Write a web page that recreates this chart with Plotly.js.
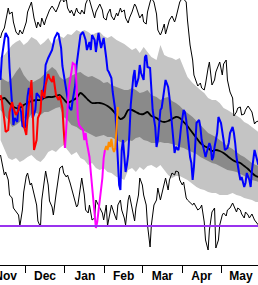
<!DOCTYPE html>
<html><head><meta charset="utf-8">
<script src="https://cdn.plot.ly/plotly-3.0.1.min.js"></script>
<style>html,body{margin:0;padding:0;background:#fff;overflow:hidden}#chart{width:258px;height:285px}</style>
</head><body><div id="chart"></div>
<script>
// x = days since 1 Nov 2015 (2016 is a leap year)
const monthNames = ['Nov','Dec','Jan','Feb','Mar','Apr','May'];
const monthStarts = [0,30,61,92,121,152,182,213];

// daily climatology envelopes
const climDays = [11,12,14,15,17,18,20,21,23,25,26,28,29,31,32,34,35,37,39,40,42,43,45,46,48,49,51,52,54,56,57,59,60,62,63,65,66,68,70,71,73,74,76,77,79,80,82,84,85,87,88,90,91,93,94,96,97,99,101,102,104,105,107,108,110,111,113,115,116,118,119,121,122,124,125,127,128,130,132,133,135,136,138,139,141,142,144,146,147,149,150,152,153,155,156,158,160,161,163,164,166,167,169,170,172,173,175,177,178,180,181,183,184,186,187,189,191,192,194,195,197,198,200,201,203,204,206,208,209,211];
const maxVals = [227,232,237,245,257,251,253,243,233,230,235,231,235,243,253,260,263,247,237,243,238,247,240,245,251,255,259,257,253,259,263,267,263,266,257,252,255,249,257,253,251,255,251,261,267,265,257,247,253,259,261,255,247,245,251,256,249,245,252,249,257,253,255,247,242,247,253,261,259,251,247,251,243,241,253,263,267,263,251,235,230,233,241,231,239,245,249,243,247,257,263,267,266,263,245,220,205,190,183,179,182,177,175,181,197,203,180,185,193,199,203,190,201,205,185,173,167,149,153,157,158,150,151,155,159,157,153,141,143,144];
const minVals = [110,103,90,93,85,70,67,57,53,50,39,55,73,89,92,80,82,70,60,44,38,65,87,94,80,64,58,50,70,90,97,99,92,88,90,82,77,67,58,60,80,87,70,55,52,60,45,47,65,60,58,52,45,60,39,55,60,52,45,60,65,55,47,40,65,70,55,44,57,70,87,80,70,60,40,18,40,60,65,77,65,70,83,87,75,85,92,90,94,93,85,80,83,67,65,62,60,62,57,55,57,60,43,25,15,35,53,57,17,25,40,50,52,49,55,57,62,59,53,57,55,51,47,53,50,47,51,45,43,40];

// percentile bands and median
const bandDays = [11,14,17,20,23,26,29,32,35,39,42,45,48,51,54,57,60,63,66,70,73,76,79,82,85,88,91,94,97,101,104,107,110,113,116,119,122,125,128,132,135,138,141,144,147,150,153,156,160,163,166,169,172,175,178,181,184,187,191,194,197,200,203,206,209,211];
const p90 = [208,210,215,220,223,225,220,223,228,225,220,223,227,221,225,229,227,231,230,235,233,235,233,230,232,233,229,227,229,225,223,221,218,215,217,212,218,213,208,205,220,210,208,207,205,207,197,188,182,178,175,172,167,165,165,162,157,155,152,149,147,143,141,138,135,133];
const p10 = [125,115,107,105,107,103,105,108,110,105,103,107,113,115,113,117,120,115,110,113,107,105,100,102,97,95,97,93,92,88,87,85,95,97,93,98,95,99,100,97,100,95,90,87,89,89,87,85,81,78,76,75,73,72,72,70,70,70,72,70,69,67,66,65,63,63];
const p75 = [188,185,183,187,193,198,190,185,182,185,187,191,195,198,195,188,185,187,189,192,193,190,188,189,187,185,182,183,180,178,177,175,175,177,175,172,173,175,170,168,165,167,168,164,162,159,155,152,148,144,140,135,132,130,128,125,122,119,116,113,110,108,105,102,100,99];
const p25 = [155,150,145,138,140,143,147,145,151,152,150,153,153,155,157,158,148,145,140,138,135,134,132,130,128,129,130,128,128,125,123,122,125,124,127,128,125,124,122,122,123,122,122,121,120,118,117,115,113,111,108,106,104,102,101,99,97,95,94,93,91,89,87,85,84,83];
const median = [165,167,163,159,157,157,160,162,164,165,165,167,168,168,169,170,166,162,164,167,172,169,165,162,162,162,161,159,156,150,146,148,155,155,153,151,151,153,149,147,144,143,144,146,148,147,143,139,132,127,122,119,117,114,115,114,112,109,105,103,102,99,96,92,89,88];

// another season (blue)
const blueDays = [11,12,14,15,17,18,20,21,22,24,25,27,28,30,32,33,35,36,38,39,42,43,45,46,48,49,51,53,55,56,58,59,61,63,64,66,67,69,70,72,73,75,77,78,80,81,82,84,85,86,87,89,90,91,93,94,95,97,98,100,101,102,103,104,105,106,107,108,109,110,111,112,114,115,116,118,119,120,122,123,124,125,127,128,129,131,132,133,135,136,138,139,141,142,144,145,146,147,149,150,151,153,154,155,156,158,159,160,161,162,163,165,166,167,169,170,171,173,174,175,176,177,179,180,182,183,184,185,187,188,189,191,192,193,194,196,197,198,200,201,202,204,205,206,207,208,210,211];
const blueVals = [185,207,225,232,227,197,160,140,147,143,160,153,139,137,169,177,167,147,155,172,167,165,180,200,207,210,215,227,232,231,217,199,185,167,158,155,165,180,200,220,230,233,225,215,223,215,230,225,213,223,232,217,223,227,207,195,193,187,173,155,130,105,80,75,115,125,110,93,100,110,132,160,188,195,178,187,200,192,185,208,210,198,197,168,155,138,118,125,155,157,175,185,178,168,140,122,112,118,115,125,138,155,153,145,132,108,102,85,98,125,142,145,138,125,115,108,113,122,118,105,108,118,132,148,142,135,125,115,117,122,132,138,132,122,108,92,85,88,78,82,92,85,78,95,108,115,105,100];

// current season, coloured by month
const curDays = [11,12,14,15,17,18,20,21,23,25,26,28,29,31,32,34,35,36,37,39,40,42,43,45,46,48,49,51,52,54,56,57,59,60,61,62,63,64,66,67,69,70,71,72,73,75,76,77,78,80,81,82,83,84,85,86,87,88,89,90,91,92,93,94,95,96,97,98,99,100,101,102];
const curVals = [170,165,145,133,135,153,163,157,150,155,162,159,140,130,147,175,185,155,115,125,147,153,175,167,180,191,187,183,189,170,165,169,157,135,117,140,155,177,193,202,200,180,147,140,138,135,125,132,122,108,93,77,60,50,37,43,55,65,73,87,107,115,119,115,123,118,126,117,113,117,135,158];
const curColors = ['#ff0000','#ff00ff','#ff8c00'];
const curBreaks = [61,92];

const threshold = 39;

function seg(lo, hi){
  const x=[], y=[];
  curDays.forEach((d,i)=>{ if(d>=lo && d<=hi){x.push(d); y.push(curVals[i]);} });
  return {x,y};
}

const traces = [];
traces.push({x:bandDays,y:p10,mode:'lines',line:{width:0,color:'rgba(0,0,0,0)'},hoverinfo:'skip'});
traces.push({x:bandDays,y:p90,mode:'lines',fill:'tonexty',fillcolor:'#c4c4c4',line:{width:0,color:'rgba(0,0,0,0)'},hoverinfo:'skip'});
traces.push({x:bandDays,y:p25,mode:'lines',line:{width:0,color:'rgba(0,0,0,0)'},hoverinfo:'skip'});
traces.push({x:bandDays,y:p75,mode:'lines',fill:'tonexty',fillcolor:'#8a8a8a',line:{width:0,color:'rgba(0,0,0,0)'},hoverinfo:'skip'});
traces.push({x:climDays,y:maxVals,mode:'lines',line:{width:1,color:'#000'}});
traces.push({x:climDays,y:minVals,mode:'lines',line:{width:1,color:'#000'}});
traces.push({x:bandDays,y:median,mode:'lines',line:{width:1.8,color:'#000',shape:'spline',smoothing:0.8}});
traces.push({x:blueDays,y:blueVals,mode:'lines',line:{width:2,color:'#0000ff'}});
const bounds = [curDays[0], curBreaks[0], curBreaks[1], curDays[curDays.length-1]];
for(let k=0;k<3;k++){
  const s = seg(bounds[k], bounds[k+1]);
  traces.push({x:s.x,y:s.y,mode:'lines',line:{width:2,color:curColors[k]}});
}

const mids = monthNames.map((m,i)=>(monthStarts[i]+monthStarts[i+1])/2);

const layout = {
  width:258, height:285,
  margin:{l:0,r:0,t:0,b:20,pad:0},
  paper_bgcolor:'#fff', plot_bgcolor:'#fff',
  showlegend:false,
  xaxis:{
    range:[10.61,210.69], showgrid:false, zeroline:false,
    showline:true, linecolor:'#000', linewidth:1,
    tickmode:'array', tickvals:mids, ticktext:monthNames,
    ticks:'', ticklen:0, ticklabeloverflow:'allow',
    tickfont:{family:'Liberation Sans, Arial, sans-serif', size:12, color:'#000', weight:'bold'},
    minor:{tickmode:'array', tickvals:monthStarts.slice(1,7), ticks:'outside', ticklen:7, tickwidth:1, tickcolor:'#000', showgrid:false}
  },
  yaxis:{range:[0,265], visible:false, showgrid:false, zeroline:false},
  shapes:[{type:'line', xref:'paper', x0:0, x1:1, yref:'y', y0:threshold, y1:threshold, line:{color:'#9933ee', width:2}, layer:'above'}]
};

Plotly.newPlot('chart', traces, layout, {displayModeBar:false, staticPlot:true});
</script>
</body></html>
